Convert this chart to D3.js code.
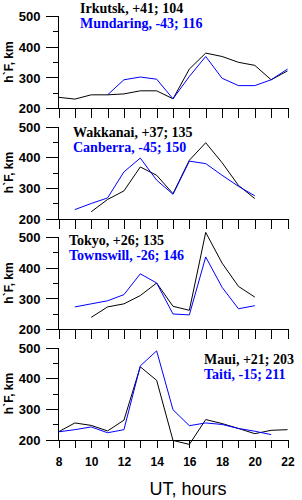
<!DOCTYPE html>
<html lang="en">
<head>
<meta charset="utf-8">
<title>h'F</title>
<script src="https://cdn.jsdelivr.net/npm/d3@7"></script>
<style>
  body { margin: 0; background: #fff; }
  svg { display: block; }
  .ylab { font: bold 13px "Liberation Sans", Arial, sans-serif; }
  .xlab { font: bold 12px "Liberation Sans", Arial, sans-serif; }
  .ttl { font: bold 14px "Liberation Serif", "Times New Roman", serif; }
</style>
</head>
<body>
<div id="chart"></div>
<script>
// hours of the day (UT)
var hours = [8, 9, 10, 11, 12, 13, 14, 15, 16, 17, 18, 19, 20, 21, 22];

// each panel: northern station (black) and southern station (blue)
var irkutskHours = [8, 9, 10, 11, 12, 13, 14, 15, 16, 17, 18, 19, 20, 21, 22];
var irkutskVals  = [235, 229, 243, 243, 246, 256, 256, 230, 327, 379, 368, 349, 339, 292, 321];
var mundaringHours = [11, 12, 13, 14, 15, 16, 17, 18, 19, 20, 21, 22];
var mundaringVals  = [243, 292, 301, 294, 230, 303, 368, 297, 273, 273, 292, 327];

var wakkanaiHours = [10, 11, 12, 13, 14, 15, 16, 17, 18, 19, 20];
var wakkanaiVals  = [222, 262, 290, 368, 341, 281, 390, 447, 382, 308, 265];
var canberraHours = [9, 10, 11, 12, 13, 14, 15, 16, 17, 18, 19, 20];
var canberraVals  = [229, 249, 267, 352, 397, 325, 279, 387, 379, 341, 305, 274];

var tokyoHours = [10, 11, 12, 13, 14, 15, 16, 17, 18, 19, 20];
var tokyoVals  = [238, 272, 282, 309, 350, 274, 261, 515, 415, 339, 304];
var townswillHours = [9, 10, 11, 12, 13, 14, 15, 16, 17, 18, 19, 20];
var townswillVals  = [272, 282, 292, 312, 380, 350, 249, 246, 435, 336, 266, 276];

var mauiHours = [8, 9, 10, 11, 12, 13, 14, 15, 16, 17, 18, 19, 20, 21, 22];
var mauiVals  = [225, 254, 246, 228, 263, 437, 393, 197, 184, 265, 252, 236, 219, 230, 232];
var taitiHours = [8, 9, 10, 11, 12, 13, 14, 15, 16, 17, 18, 19, 20, 21];
var taitiVals  = [225, 232, 241, 222, 232, 440, 489, 297, 245, 254, 249, 236, 227, 216];

var titlesBlack = ['Irkutsk, +41; 104', 'Wakkanai, +37; 135', 'Tokyo, +26; 135', 'Maui, +21; 203'];
var titlesBlue  = ['Mundaring, -43; 116', 'Canberra, -45; 150', 'Townswill, -26; 146', 'Taiti, -15; 211'];

var yMajor = [200, 300, 400, 500];
var yMinor = [250, 350, 450];
var xLabels = [8, 10, 12, 14, 16, 18, 20, 22];

var panels = [
  { black: [irkutskHours, irkutskVals], blue: [mundaringHours, mundaringVals], top: 16, tx: 80, ty: -3 },
  { black: [wakkanaiHours, wakkanaiVals], blue: [canberraHours, canberraVals], top: 126.5, tx: 73, ty: 10 },
  { black: [tokyoHours, tokyoVals], blue: [townswillHours, townswillVals], top: 237, tx: 69, ty: 8 },
  { black: [mauiHours, mauiVals], blue: [taitiHours, taitiVals], top: 347.5, tx: 204, ty: 16 }
];

var W = 302, H = 500, ph = 92;
var svg = d3.select('#chart').append('svg').attr('width', W).attr('height', H);

var x = d3.scaleLinear().domain([8, 22]).range([58.5, 287.5]);

panels.forEach(function(p, i) {
  var g = svg.append('g').attr('transform', 'translate(0,' + p.top + ')');
  var y = d3.scaleLinear().domain([200, 500]).range([ph, 0]);
  var last = i == panels.length - 1;

  // left axis
  var ya = g.append('g').attr('transform', 'translate(' + x(8) + ',0)')
    .call(d3.axisLeft(y).tickValues(yMajor).tickSize(13).tickPadding(5).tickFormat(d3.format('d')));
  ya.select('.domain').remove();
  ya.selectAll('text').attr('class', 'ylab').attr('fill', '#000').attr('dy', '0.36em');
  ya.selectAll('line').attr('stroke', '#000').attr('shape-rendering', 'crispEdges');
  g.append('g').attr('transform', 'translate(' + x(8) + ',0)')
    .call(d3.axisLeft(y).tickValues(yMinor).tickSize(6).tickFormat(''))
    .call(function(s) { s.select('.domain').remove(); s.selectAll('line').attr('stroke', '#000').attr('shape-rendering', 'crispEdges'); });
  g.append('line').attr('x1', x(8)).attr('x2', x(8)).attr('y1', 0).attr('y2', ph)
    .attr('stroke', '#000').attr('shape-rendering', 'crispEdges');

  // bottom axis
  var xa = g.append('g').attr('transform', 'translate(0,' + ph + ')')
    .call(d3.axisBottom(x).tickValues(hours).tickSize(last ? 8 : 10).tickSizeOuter(0)
      .tickFormat(function(d) { return last && xLabels.indexOf(d) >= 0 ? d : ''; }).tickPadding(10));
  xa.select('.domain').attr('stroke', '#000').attr('shape-rendering', 'crispEdges');
  xa.selectAll('line').attr('stroke', '#000').attr('shape-rendering', 'crispEdges');
  xa.selectAll('text').attr('class', 'xlab').attr('fill', '#000');

  // y title
  g.append('text').attr('class', 'ylab').style('font-size', '12px')
    .attr('transform', 'translate(13,' + (ph / 2) + ') rotate(-90)')
    .attr('text-anchor', 'middle').text('h`F, km');

  var line = d3.line().x(function(d) { return x(d[0]); }).y(function(d) { return y(d[1]); });
  [['#000', p.black], ['#0000ff', p.blue]].forEach(function(s) {
    var pts = d3.zip(s[1][0], s[1][1]);
    g.append('path').datum(pts).attr('d', line)
      .attr('fill', 'none').attr('stroke', s[0]).attr('stroke-width', 1);
  });

  g.append('text').attr('class', 'ttl').attr('x', p.tx).attr('y', p.ty).attr('fill', '#000').text(titlesBlack[i]);
  g.append('text').attr('class', 'ttl').attr('x', p.tx).attr('y', p.ty + 15).attr('fill', '#0000ff').text(titlesBlue[i]);
});

svg.append('text').attr('x', 188).attr('y', 495).attr('text-anchor', 'middle')
  .style('font', '18px "Liberation Sans", Arial, sans-serif').text('UT, hours');
</script>
</body>
</html>
